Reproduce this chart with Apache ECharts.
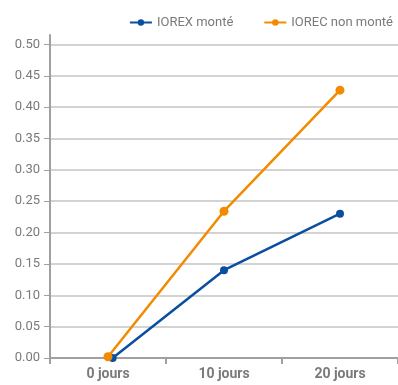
<!DOCTYPE html>
<html><head><meta charset="utf-8">
<script src="https://cdn.jsdelivr.net/npm/echarts@6/dist/echarts.min.js"></script>
<style>html,body{margin:0;padding:0;background:#fff}#c{width:398px;height:385px}</style>
</head><body><div id="c"></div>
<script>
var categories = ['0 jours', '10 jours', '20 jours'];
var seriesNames = ['IOREX monté', 'IOREC non monté'];
var iorexX = [0.04, 1, 2];
var iorexY = [0.000, 0.140, 0.230];
var iorecX = [0, 1, 2];
var iorecY = [0.002, 0.234, 0.427];
var yTickValues = [0, 0.05, 0.10, 0.15, 0.20, 0.25, 0.30, 0.35, 0.40, 0.45, 0.50];
var yAxisTop = 0.515;

function pairs(xs, ys) { return xs.map(function (x, i) { return [x, ys[i]]; }); }

var font = 'Roboto, "DejaVu Sans", sans-serif';
var chart = echarts.init(document.getElementById('c'));
chart.setOption({
  animation: false,
  textStyle: { fontFamily: font },
  legend: {
    top: 11, right: 0, itemGap: 30, itemWidth: 22, itemHeight: 8,
    textStyle: { color: '#7a7a7a', fontSize: 13, fontFamily: font },
    data: seriesNames
  },
  grid: { left: 50, right: -4, top: 35, bottom: 27, containLabel: false },
  xAxis: [{
    type: 'category', data: categories, boundaryGap: true,
    axisLine: { lineStyle: { color: '#a0a0a0', width: 2 } },
    axisTick: { show: true, length: 6, lineStyle: { color: '#a0a0a0', width: 2 } },
    axisLabel: { color: '#7a7a7a', fontSize: 14, fontWeight: 'bold', margin: 9, fontFamily: font },
    splitLine: { show: false }
  }, {
    type: 'value', min: -0.5, max: 2.5, show: false, position: 'bottom'
  }],
  yAxis: {
    type: 'value', min: 0, max: yAxisTop,
    axisLine: { show: true, onZero: false, lineStyle: { color: '#a0a0a0', width: 2 } },
    axisTick: { show: true, length: 6, customValues: yTickValues, lineStyle: { color: '#a0a0a0', width: 1 } },
    axisLabel: { color: '#7a7a7a', fontSize: 13, margin: 10, fontFamily: font, customValues: yTickValues,
      formatter: function (v) { return v.toFixed(2); } },
    splitLine: { lineStyle: { color: '#c4c4c4', width: 1.5 } }
  },
  series: [{
    name: seriesNames[0], type: 'line', xAxisIndex: 1,
    data: pairs(iorexX, iorexY),
    symbol: 'circle', symbolSize: 8,
    lineStyle: { width: 2.5, color: '#0a4e9f' },
    itemStyle: { color: '#0a4e9f' }
  }, {
    name: seriesNames[1], type: 'line', xAxisIndex: 1,
    data: pairs(iorecX, iorecY),
    symbol: 'circle', symbolSize: 9,
    lineStyle: { width: 2.5, color: '#f28b00' },
    itemStyle: { color: '#f28b00' }
  }]
});
</script></body></html>
